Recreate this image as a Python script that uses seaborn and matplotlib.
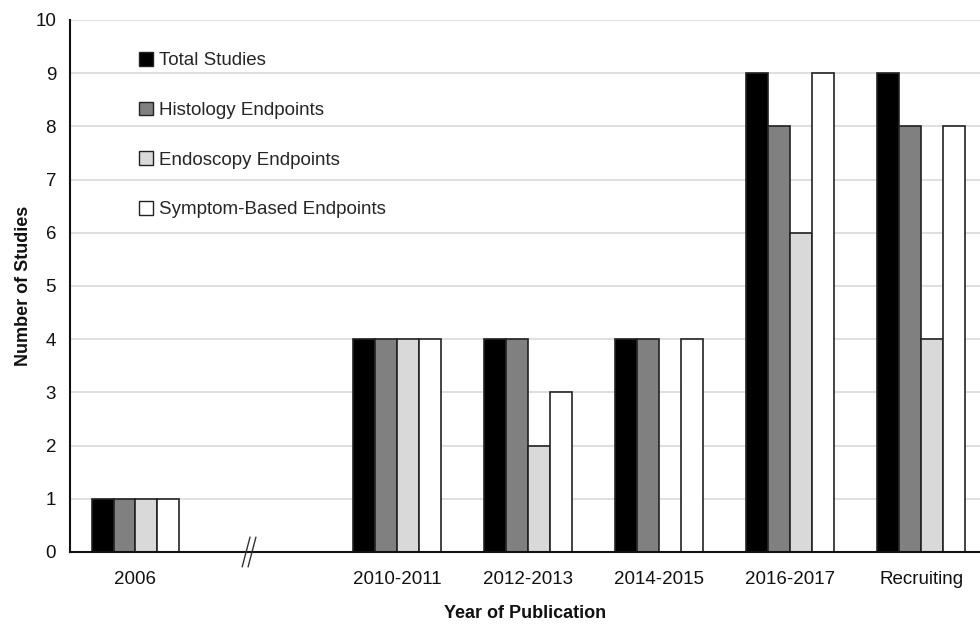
import matplotlib
matplotlib.use("Agg")
import matplotlib.pyplot as plt
import matplotlib.transforms as mtransforms
from matplotlib.patches import Patch
import numpy as np
import pandas as pd
import seaborn as sns

# Publication periods (the blank slot marks the break in the time axis)
periods = ["2006", " ", "2010-2011", "2012-2013", "2014-2015", "2016-2017", "Recruiting"]
total_studies = [1, np.nan, 4, 4, 4, 9, 9]
histology = [1, np.nan, 4, 4, 4, 8, 8]
endoscopy = [1, np.nan, 4, 2, 0, 6, 4]
symptom_based = [1, np.nan, 4, 3, 4, 9, 8]

series_names = ["Total Studies", "Histology Endpoints", "Endoscopy Endpoints",
                "Symptom-Based Endpoints"]
series_values = [total_studies, histology, endoscopy, symptom_based]
fill_colors = ["#000000", "#808080", "#d9d9d9", "#ffffff"]

rows = []
for name, vals in zip(series_names, series_values):
    for p, v in zip(periods, vals):
        rows.append({"Period": p, "Series": name, "Count": v})
df = pd.DataFrame(rows)

sns.set_theme(style="white")
plt.rcParams["font.family"] = ["Liberation Sans", "DejaVu Sans"]

fig = plt.figure(figsize=(9.8, 6.24), dpi=100)
ax = fig.add_axes([70 / 980, 1 - 552 / 624, 1 - 70 / 980, (552 - 20) / 624])

sns.barplot(data=df, x="Period", y="Count", hue="Series", order=periods,
            hue_order=series_names, palette=fill_colors, width=0.67,
            edgecolor="#222222", linewidth=1.2, saturation=1, legend=False,
            errorbar=None, ax=ax, zorder=3)

ax.set_ylim(0, 10)
ax.set_xlim(-0.5, 6.45)
ax.set_yticks(range(0, 11))
ax.yaxis.grid(True, color="#d9d9d9", linewidth=1.2, zorder=0)
ax.set_axisbelow(True)
for side in ["top", "right"]:
    ax.spines[side].set_visible(False)
for side in ["left", "bottom"]:
    ax.spines[side].set_color("#111111")
    ax.spines[side].set_linewidth(1.5)
    ax.spines[side].set_zorder(4)
ax.tick_params(axis="both", which="both", length=0, labelsize=13.5,
               colors="#111111", pad=10)
ax.tick_params(axis="x", pad=14)

ax.set_xlabel("Year of Publication", fontsize=13, fontweight="bold",
              color="#111111", labelpad=12)
ax.set_ylabel("Number of Studies", fontsize=13, fontweight="bold",
              color="#111111", labelpad=2)

# Break marks on the category axis
trans = mtransforms.blended_transform_factory(ax.transData, ax.transAxes)
for dx in (-0.045, 0.0):
    ax.plot([0.86 + dx, 0.92 + dx], [-0.028, 0.028], transform=trans,
            color="#333333", linewidth=1.0, clip_on=False, zorder=5)

handles = [Patch(facecolor=c, edgecolor="#222222", linewidth=1.0) for c in fill_colors]
ax.legend(handles, series_names, loc="upper left", bbox_to_anchor=(0.068, 0.954),
          frameon=False, fontsize=13.5, handlelength=0.75, handleheight=0.75,
          handletextpad=0.3, labelspacing=1.72, borderaxespad=0)

fig.savefig("out.png", dpi=100)
